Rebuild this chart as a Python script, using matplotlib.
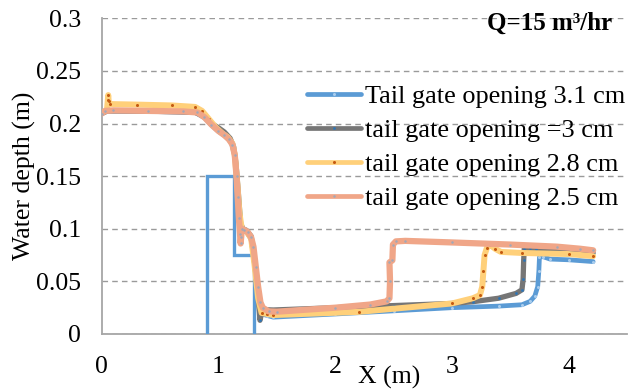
import matplotlib
matplotlib.use("Agg")
import matplotlib.pyplot as plt

# Water surface profiles along the flume for four tail gate openings
x_31 = [0.00, 0.05, 0.40, 0.80, 0.88, 0.94, 1.00, 1.06, 1.11, 1.14, 1.16, 1.18, 1.20, 1.24, 1.28, 1.31,
        1.34, 1.356, 1.37, 1.42, 1.47, 2.00, 2.50, 3.00, 3.40, 3.60, 3.67, 3.71, 3.735, 3.745, 3.75,
        3.78, 3.84, 4.00, 4.21]
y_31 = [0.2095, 0.2120, 0.2115, 0.2105, 0.2055, 0.1985, 0.1925, 0.1880, 0.1820, 0.1700, 0.1400, 0.1100,
        0.0990, 0.0970, 0.0900, 0.0650, 0.0350, 0.0150, 0.0190, 0.0175, 0.0160, 0.0190, 0.0220, 0.0250,
        0.0265, 0.0278, 0.0310, 0.0360, 0.0450, 0.0600, 0.0730, 0.0735, 0.0712, 0.0705, 0.0688]

x_30 = [0.00, 0.05, 0.40, 0.80, 0.88, 0.94, 1.00, 1.05, 1.10, 1.13, 1.15, 1.17, 1.19, 1.21, 1.24, 1.28,
        1.31, 1.34, 1.356, 1.37, 1.42, 1.47, 2.00, 2.50, 3.00, 3.18, 3.40, 3.55, 3.60, 3.61, 3.615,
        3.62, 3.67, 3.72, 4.00, 4.21]
y_30 = [0.2095, 0.2120, 0.2118, 0.2108, 0.2065, 0.2000, 0.1960, 0.1920, 0.1860, 0.1780, 0.1620, 0.1350,
        0.1050, 0.1000, 0.0985, 0.0930, 0.0680, 0.0360, 0.0130, 0.0200, 0.0230, 0.0228, 0.0250, 0.0270,
        0.0290, 0.0307, 0.0340, 0.0386, 0.0420, 0.0520, 0.0700, 0.0812, 0.0814, 0.0805, 0.0785, 0.0770]

x_28 = [0.00, 0.045, 0.052, 0.056, 0.060, 0.07, 0.30, 0.60, 0.80, 0.86, 0.92, 0.98, 1.03, 1.08, 1.12,
        1.14, 1.16, 1.18, 1.20, 1.24, 1.28, 1.31, 1.34, 1.37, 1.42, 1.47, 2.20, 3.00, 3.18, 3.24,
        3.26, 3.27, 3.28, 3.30, 3.33, 3.37, 3.42, 3.60, 4.00, 4.21]
y_28 = [0.2100, 0.2130, 0.2220, 0.2270, 0.2210, 0.2185, 0.2180, 0.2172, 0.2158, 0.2120, 0.2040, 0.1960,
        0.1910, 0.1870, 0.1810, 0.1700, 0.1450, 0.1150, 0.1000, 0.0975, 0.0910, 0.0650, 0.0340, 0.0200,
        0.0190, 0.0180, 0.0210, 0.0290, 0.0340, 0.0370, 0.0450, 0.0600, 0.0750, 0.0820, 0.0845, 0.0810,
        0.0780, 0.0770, 0.0760, 0.0740]

x_25 = [0.00, 0.03, 0.10, 0.40, 0.70, 0.82, 0.88, 0.94, 1.00, 1.05, 1.09, 1.12, 1.14, 1.155, 1.165,
        1.175, 1.185, 1.19, 1.195, 1.20, 1.22, 1.25, 1.28, 1.30, 1.32, 1.34, 1.36, 1.38, 1.43, 1.50,
        2.00, 2.30, 2.44, 2.465, 2.47, 2.465, 2.49, 2.495, 2.52, 2.60, 3.00, 3.50, 3.90, 4.10, 4.21]
y_25 = [0.2095, 0.2120, 0.2125, 0.2120, 0.2115, 0.2105, 0.2060, 0.1990, 0.1930, 0.1890, 0.1850, 0.1800,
        0.1700, 0.1500, 0.1300, 0.1100, 0.0950, 0.0860, 0.0920, 0.1000, 0.0990, 0.0970, 0.0920, 0.0830,
        0.0640, 0.0450, 0.0300, 0.0250, 0.0215, 0.0212, 0.0250, 0.0280, 0.0310, 0.0340, 0.0500, 0.0680,
        0.0700, 0.0850, 0.0880, 0.0885, 0.0870, 0.0850, 0.0830, 0.0810, 0.0795]

# Gate / weir outline drawn with the 3.1 cm series colour
x_gate = [0.904, 0.904, 1.135, 1.135, 1.302, 1.302]
y_gate = [0.0, 0.150, 0.150, 0.075, 0.075, 0.0]

labels = ["Tail gate opening 3.1 cm", "tail gate opening =3 cm",
          "tail gate opening 2.8 cm", "tail gate opening 2.5 cm"]

x_ticks = [0, 1, 2, 3, 4]
y_ticks = [0, 0.05, 0.1, 0.15, 0.2, 0.25, 0.3]
y_ticklabels = ["0", "0.05", "0.1", "0.15", "0.2", "0.25", "0.3"]

serif = ["Liberation Serif", "DejaVu Serif"]
plt.rcParams["font.family"] = serif

W, H = 632, 389
fig = plt.figure(figsize=(W / 100, H / 100), dpi=100)
ax = fig.add_axes([101.7 / W, 1 - 334 / H, (627 - 101.7) / W, (334 - 18.3) / H])

fs = 18.5

c_blue = "#5B9BD5"
c_gray = "#767676"
c_yel = "#FFD07A"
c_sal = "#F0A688"

ax.plot(x_gate, y_gate, color=c_blue, lw=2.4, solid_joinstyle="miter", zorder=2)
ax.plot(x_31, y_31, color=c_blue, lw=3.4, marker="o", ms=2.2, mfc="#A9CDEE", mec="none",
        label=labels[0], solid_capstyle="round", zorder=3)
ax.plot(x_30, y_30, color=c_gray, lw=3.8, marker="o", ms=2.0, mfc="#2E75B6", mec="none",
        label=labels[1], solid_capstyle="round", zorder=4)
ax.plot(x_28, y_28, color=c_yel, lw=4.3, marker="o", ms=2.2, mfc="#C55A11", mec="none",
        label=labels[2], solid_capstyle="round", zorder=5)
ax.plot(x_25, y_25, color=c_sal, lw=4.5, marker="o", ms=1.8, mfc="#A0A8B8", mec="none",
        label=labels[3], solid_capstyle="round", zorder=6)

ax.set_xlim(0, 4.5)
ax.set_ylim(0, 0.3)
ax.set_xticks(x_ticks)
ax.set_yticks(y_ticks)
ax.set_yticklabels(y_ticklabels)
ax.tick_params(length=0, labelsize=fs, colors="black")
ax.tick_params(axis="x", pad=16)
ax.tick_params(axis="y", pad=15)

ax.grid(axis="y", color="#9A9A9A", lw=1.0, linestyle=(0, (4, 3)))
ax.set_axisbelow(True)
for s in ["top", "right"]:
    ax.spines[s].set_visible(False)
for s in ["left", "bottom"]:
    ax.spines[s].set_color("#A6A6A6")
    ax.spines[s].set_linewidth(1.3)
    ax.spines[s].set_zorder(1)

fig.text(24 / W, 1 - 176 / H, "Water depth (m)", rotation=90, ha="center", va="center",
         fontsize=fs)
fig.text(389 / W, 1 - 377 / H, "X (m)", ha="center", va="center", fontsize=fs)
fig.text(550 / W, 1 - 23 / H, "Q=15 m³/hr", ha="center", va="center", fontsize=18,
         weight="bold")

leg = ax.legend(loc="upper left", bbox_to_anchor=(307 / W, 1 - 85 / H),
                bbox_transform=fig.transFigure, frameon=False, borderpad=0, borderaxespad=0,
                handlelength=2.05, handletextpad=0.15, labelspacing=0.4, numpoints=1,
                prop={"family": serif, "size": 18.9})
for h in leg.legend_handles:
    h.set_linewidth(3.4)

fig.savefig("out.png", dpi=100)
